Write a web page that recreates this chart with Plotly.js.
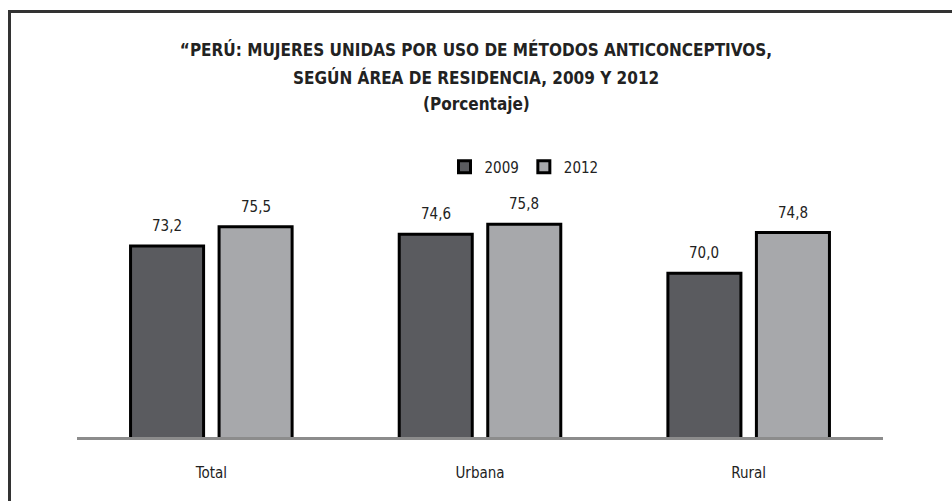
<!DOCTYPE html>
<html>
<head>
<meta charset="utf-8">
<script src="https://cdn.plot.ly/plotly-3.0.1.min.js"></script>
<style>html,body{margin:0;padding:0;background:#fff;}#chart{width:952px;height:501px;}</style>
</head>
<body>
<div id="chart"></div>
<script>
const categories = ["Total", "Urbana", "Rural"];
const series2009 = [73.2, 74.6, 70.0];
const series2012 = [75.5, 75.8, 74.8];
const seriesNames = ["2009", "2012"];
const titleLines = ["“PERÚ: MUJERES UNIDAS POR USO DE MÉTODOS ANTICONCEPTIVOS,", "SEGÚN ÁREA DE RESIDENCIA, 2009 Y 2012", "(Porcentaje)"];

const FONT = "'Liberation Sans Narrow', 'Arial Narrow', 'DejaVu Sans Condensed', Arial, sans-serif";
const colors = ["#5a5b5f", "#a7a8ab"];
const W = 952, H = 501;
const M = {l: 77, r: 69, t: 100, b: 64};
const pw = W - M.l - M.r, ph = H - M.t - M.b;
const yMin = 50.6, yMax = 90.5;

const fmt = v => v.toFixed(1).replace('.', ',');
const px2x = px => (px - M.l) / pw;
const px2y = py => (H - M.b - py) / ph;

const data = [series2009, series2012].map((vals, i) => ({
  type: 'bar',
  name: seriesNames[i],
  x: categories,
  y: vals,
  marker: {color: colors[i], line: {color: '#000', width: 3}},
  hoverinfo: 'none'
}));

const annotations = [];
[series2009, series2012].forEach((vals, i) => {
  vals.forEach((v, j) => {
    annotations.push({
      x: categories[j], y: v, xref: 'x', yref: 'y',
      text: fmt(v), showarrow: false,
      xshift: i === 0 ? -44.3 : 44.3, yshift: 9, yanchor: 'bottom',
      font: {family: FONT, size: 15, color: '#222'}
    });
  });
});
// title lines 2 and 3
[[titleLines[1], 77], [titleLines[2], 104]].forEach(([t, py]) => {
  annotations.push({
    xref: 'paper', yref: 'paper', x: px2x(476), y: px2y(py),
    xanchor: 'center', yanchor: 'middle', showarrow: false,
    text: '<b>' + t + '</b>',
    font: {family: FONT, size: 17, color: '#222'}
  });
});

const layout = {
  width: W, height: H,
  margin: M,
  paper_bgcolor: '#fff', plot_bgcolor: '#fff',
  separators: ',.',
  title: {
    text: '<b>' + titleLines[0] + '</b>',
    x: 0.5, xanchor: 'center', xref: 'container',
    y: 1 - 50 / H, yanchor: 'middle',
    font: {family: FONT, size: 17, color: '#222'}
  },
  barmode: 'group',
  bargap: 0.341,
  bargroupgap: 0.175,
  showlegend: true,
  legend: {
    orientation: 'h', x: px2x(524), xanchor: 'center', y: px2y(167), yanchor: 'middle',
    font: {family: FONT, size: 15, color: '#222'},
    itemwidth: 30, tracegroupgap: 0, bgcolor: 'rgba(0,0,0,0)'
  },
  xaxis: {
    showline: true, linecolor: '#8c8c8c', linewidth: 3,
    ticks: 'outside', ticklen: 20, tickcolor: 'rgba(0,0,0,0)',
    tickfont: {family: FONT, size: 15, color: '#222'},
    showgrid: false, zeroline: false, fixedrange: true
  },
  yaxis: {
    range: [yMin, yMax], visible: false, showgrid: false, zeroline: false, fixedrange: true
  },
  annotations: annotations,
  shapes: [{
    type: 'rect', xref: 'paper', yref: 'paper', layer: 'above',
    x0: px2x(9.5), x1: px2x(W + 20), y0: px2y(H + 20), y1: px2y(11.5),
    line: {color: '#333', width: 3}, fillcolor: 'rgba(0,0,0,0)'
  }]
};

Plotly.newPlot('chart', data, layout, {displayModeBar: false, staticPlot: true});
</script>
</body>
</html>
